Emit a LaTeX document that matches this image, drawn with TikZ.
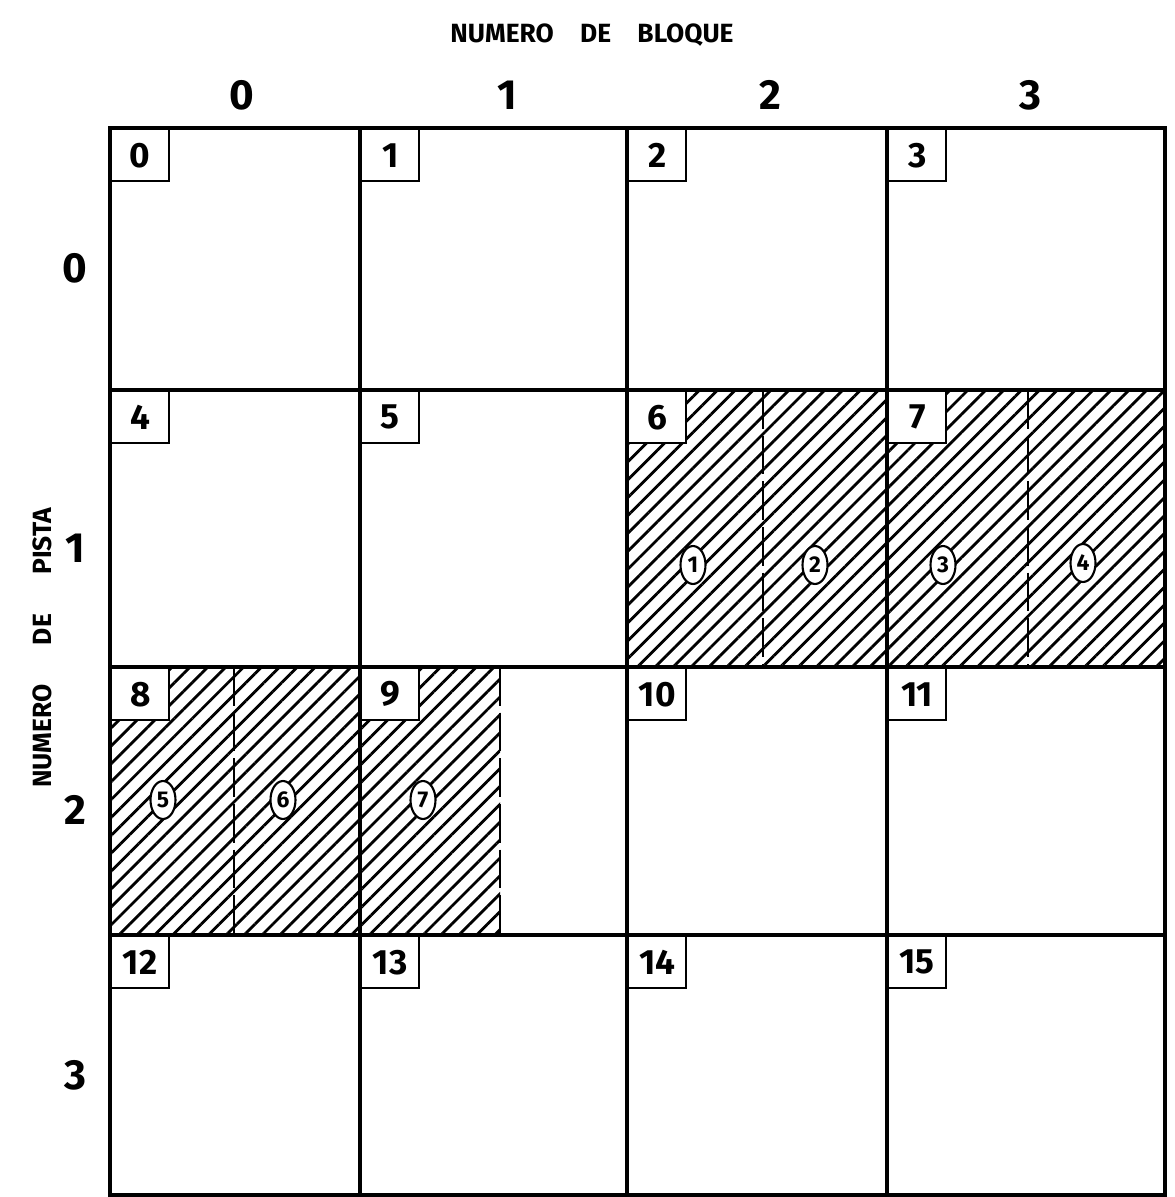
\documentclass[tikz,border=0pt]{standalone}
\usepackage{fontspec}
\setmainfont{Fira Sans}
\usetikzlibrary{patterns.meta, shapes.geometric}

\begin{document}
\begin{tikzpicture}[
    x=0.02cm, y=-0.02cm,
    font=\fontsize{24}{28}\selectfont,
    % ── shared styles ──
    grid line/.style={line width=2pt},
    sector line/.style={line width=1.6pt, dash pattern=on 22pt off 4pt},
    used area/.style={pattern={Lines[angle=45, distance=7.2pt, line width=1.6pt]}},
    block tag/.style={draw, line width=1.4pt, fill=white, anchor=north west,
        minimum width=1.16cm, minimum height=1.04cm, inner sep=0pt,
        font=\fontsize{20}{24}\selectfont\bfseries},
    sector tag/.style={draw, ellipse, line width=1.2pt, fill=white, inner sep=0pt,
        minimum width=0.5cm, minimum height=0.76cm,
        font=\fontsize{13}{15}\selectfont\bfseries},
    axis title/.style={font=\fontsize{15}{18}\selectfont\bfseries},
    axis num/.style={font=\fontsize{24}{28}\selectfont\bfseries},
]
\useasboundingbox (0,0) rectangle (1175,1197);

% ══════════════════════════════════════════════════════════════════════
%  DIMENSIONS
% ══════════════════════════════════════════════════════════════════════
\def\gridL{110} \def\gridR{1165}
\def\gridT{128} \def\gridB{1195}

% ══════════════════════════════════════════════════════════════════════
%  USED SECTORS (hatched)
% ══════════════════════════════════════════════════════════════════════
\fill[used area] (627,390) rectangle (\gridR,667);
\fill[used area] (\gridL,667) rectangle (500,935);

% ══════════════════════════════════════════════════════════════════════
%  GRID
% ══════════════════════════════════════════════════════════════════════
\draw[grid line] (\gridL,\gridT) rectangle (\gridR,\gridB);
\foreach \x in {360,627,887}
  \draw[grid line] (\x,\gridT) -- (\x,\gridB);
\foreach \y in {390,667,935}
  \draw[grid line] (\gridL,\y) -- (\gridR,\y);

% ── sector boundaries ──
\draw[sector line] (763,390) -- (763,667);
\draw[sector line] (1028,390) -- (1028,667);
\draw[sector line] (234,667) -- (234,935);
\draw[sector line] (500,667) -- (500,935);

% ── block numbers ──
\foreach \y [count=\r from 0] in {128,390,667,935}
  \foreach \x [count=\c from 0] in {110,360,627,887} {
    \pgfmathtruncatemacro\blk{4*\r+\c}
    \node[block tag] (b\blk) at (\x,\y) {\blk};
  }

% ── sector numbers ──
\node[sector tag] (s1) at (693,565) {1};
\node[sector tag] (s2) at (815,565) {2};
\node[sector tag] (s3) at (943,565) {3};
\node[sector tag] (s4) at (1083,563) {4};
\node[sector tag] (s5) at (163,800) {5};
\node[sector tag] (s6) at (283,800) {6};
\node[sector tag] (s7) at (423,800) {7};

% ══════════════════════════════════════════════════════════════════════
%  AXES
% ══════════════════════════════════════════════════════════════════════
\node[axis title] (blocktitle) at (592,35) {NUMERO\quad DE\quad BLOQUE};
\foreach \x [count=\c from 0] in {242,507,770,1030}
  \node[axis num] (col\c) at (\x,95) {\c};

\node[axis title, rotate=90] (tracktitle) at (42,648) {NUMERO\quad\enspace DE\quad\enspace PISTA};
\foreach \y [count=\r from 0] in {268,548,810,1075}
  \node[axis num] (row\r) at (75,\y) {\r};

\end{tikzpicture}
\end{document}
